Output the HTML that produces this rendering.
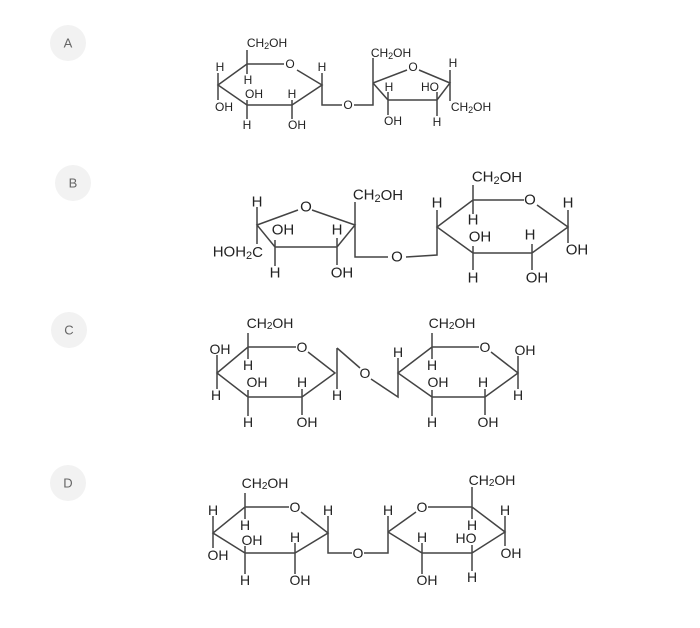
<!DOCTYPE html>
<html><head><meta charset="utf-8"><style>
html,body{margin:0;padding:0;background:#fff;}
svg{display:block;}
text{font-family:"Liberation Sans",Arial,sans-serif;fill:#222;text-anchor:middle;dominant-baseline:central;}
.l{fill:none;stroke:#444;stroke-width:1.5;}
.c{fill:#f2f2f2;}
.lt{fill:#666;font-size:13px;}
</style></head><body>
<svg width="700" height="628" viewBox="0 0 700 628" xmlns="http://www.w3.org/2000/svg">
<circle class="c" cx="68" cy="43" r="18"/><text class="lt" x="68" y="43">A</text>
<circle class="c" cx="73" cy="183" r="18"/><text class="lt" x="73" y="183">B</text>
<circle class="c" cx="69" cy="330" r="18"/><text class="lt" x="69" y="330">C</text>
<circle class="c" cx="68" cy="483" r="18"/><text class="lt" x="68" y="483">D</text>

<!-- ===== A ===== -->
<g font-size="12">
<path class="l" d="M284,64 L247,64 L218,85 L247,105 L292,105 L322,85 L297,70"/>
<path class="l" d="M247,50 L247,74 M218,73 L218,100 M247,100 L247,119 M292,100 L292,119 M322,73 L322,105 L342,105 M354,105 L373,105 L373,58"/>
<path class="l" d="M373,83 L407,70 M419,70 L450,83 L437,100 L388,100 L373,83 M388,92 L388,115 M437,92 L437,116 M450,70 L450,101"/>
<text x="267" y="43">CH<tspan font-size="9" dy="3">2</tspan><tspan dy="-3">OH</tspan></text>
<text x="290" y="64">O</text>
<text x="220" y="67">H</text><text x="224" y="107">OH</text>
<text x="248" y="80">H</text><text x="254" y="94">OH</text><text x="247" y="125">H</text>
<text x="292" y="94">H</text><text x="297" y="125">OH</text>
<text x="322" y="67">H</text>
<text x="348" y="105">O</text>
<text x="391" y="53">CH<tspan font-size="9" dy="3">2</tspan><tspan dy="-3">OH</tspan></text>
<text x="413" y="67">O</text>
<text x="389" y="87">H</text><text x="430" y="87">HO</text>
<text x="393" y="121">OH</text><text x="437" y="122">H</text>
<text x="453" y="63">H</text>
<text x="471" y="107">CH<tspan font-size="9" dy="3">2</tspan><tspan dy="-3">OH</tspan></text>
</g>

<!-- ===== B ===== -->
<g font-size="15">
<path class="l" d="M298,210 L257,225 L275,247 L337,247 L355,225 L312,210 M257,207 L257,244 M275,240 L275,266 M337,238 L337,265 M355,202 L355,257 L388,257 M406,257 L437,255 L437,227"/>
<path class="l" d="M524,200 L473,200 L437,227 L473,253 L532,253 L568,227 L537,205 M473,185 L473,214 M437,210 L437,227 M473,246 L473,270 M532,244 L532,270 M568,210 L568,243"/>
<text x="257" y="202">H</text>
<text x="306" y="207">O</text>
<text x="283" y="230">OH</text>
<text x="263" y="252" style="text-anchor:end">HOH<tspan font-size="11" dy="4">2</tspan><tspan dy="-4">C</tspan></text>
<text x="275" y="273">H</text>
<text x="337" y="230">H</text><text x="342" y="273">OH</text>
<text x="378" y="195">CH<tspan font-size="11" dy="4">2</tspan><tspan dy="-4">OH</tspan></text>
<text x="397" y="257">O</text>
<text x="437" y="203">H</text>
<text x="497" y="177">CH<tspan font-size="11" dy="4">2</tspan><tspan dy="-4">OH</tspan></text>
<text x="530" y="200">O</text>
<text x="473" y="220">H</text><text x="480" y="237">OH</text><text x="473" y="278">H</text>
<text x="530" y="235">H</text><text x="537" y="278">OH</text>
<text x="568" y="203">H</text><text x="577" y="250">OH</text>
</g>

<!-- ===== C ===== -->
<g font-size="14">
<path class="l" d="M296,347 L248,347 L217,373 L248,397 L302,397 L335,373 L308,352 M248,333 L248,359 M217,355 L217,389 M248,390 L248,416 M302,389 L302,415 M337,348 L337,389 M337,348 L360,368 M371,379 L398,397 L398,373"/>
<path class="l" d="M479,347 L432,347 L398,373 L432,397 L485,397 L518,373 L491,352 M432,333 L432,359 M398,358 L398,373 M432,390 L432,416 M485,389 L485,415 M518,356 L518,389"/>
<text x="270" y="323">CH<tspan font-size="10" dy="3">2</tspan><tspan dy="-3">OH</tspan></text>
<text x="302" y="347">O</text>
<text x="220" y="349">OH</text><text x="216" y="395">H</text>
<text x="248" y="365">H</text><text x="257" y="382">OH</text><text x="248" y="422">H</text>
<text x="302" y="382">H</text><text x="307" y="422">OH</text>
<text x="337" y="395">H</text>
<text x="365" y="373">O</text>
<text x="452" y="323">CH<tspan font-size="10" dy="3">2</tspan><tspan dy="-3">OH</tspan></text>
<text x="485" y="347">O</text>
<text x="398" y="352">H</text>
<text x="432" y="365">H</text><text x="438" y="382">OH</text><text x="432" y="422">H</text>
<text x="483" y="382">H</text><text x="488" y="422">OH</text>
<text x="525" y="350">OH</text><text x="518" y="395">H</text>
</g>

<!-- ===== D ===== -->
<g font-size="14">
<path class="l" d="M289,507 L245,507 L213,533 L245,553 L295,553 L328,533 L301,512 M245,493 L245,519 M213,516 L213,548 M245,546 L245,574 M295,543 L295,574 M328,516 L328,553 L352,553 M364,553 L388,553 L388,516"/>
<path class="l" d="M388,532 L416,512 M428,507 L472,507 L505,532 L472,553 L422,553 L388,532 M472,487 L472,519 M505,516 L505,546 M472,545 L472,571 M422,543 L422,574"/>
<text x="265" y="483">CH<tspan font-size="10" dy="3">2</tspan><tspan dy="-3">OH</tspan></text>
<text x="295" y="507">O</text>
<text x="213" y="510">H</text><text x="218" y="555">OH</text>
<text x="245" y="525">H</text><text x="252" y="540">OH</text><text x="245" y="580">H</text>
<text x="295" y="537">H</text><text x="300" y="580">OH</text>
<text x="328" y="510">H</text>
<text x="358" y="553">O</text>
<text x="388" y="510">H</text>
<text x="422" y="507">O</text>
<text x="492" y="480">CH<tspan font-size="10" dy="3">2</tspan><tspan dy="-3">OH</tspan></text>
<text x="472" y="525">H</text><text x="466" y="538">HO</text><text x="472" y="577">H</text>
<text x="505" y="510">H</text><text x="511" y="553">OH</text>
<text x="422" y="537">H</text><text x="427" y="580">OH</text>
</g>
</svg>
</body></html>
